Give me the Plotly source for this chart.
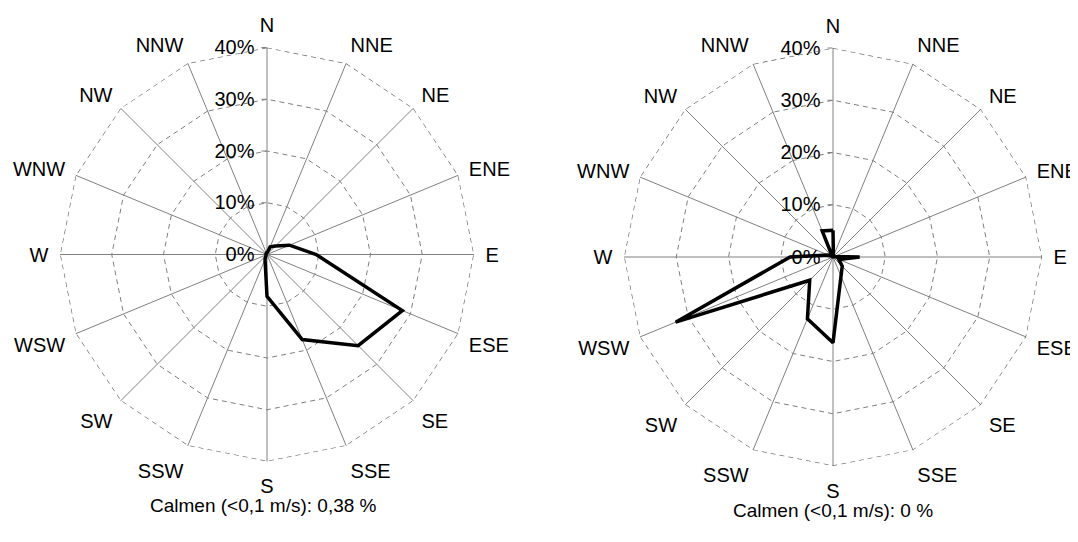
import plotly.graph_objects as go

directions = ["N", "NNE", "NE", "ENE", "E", "ESE", "SE", "SSE",
              "S", "SSW", "SW", "WSW", "W", "WNW", "NW", "NNW"]

left_values = [0.3, 1.6, 2.3, 4.7, 9.5, 28.3, 24.9, 17.8,
               8.1, 1.0, 0.3, 0.2, 0.2, 0.2, 0.2, 0.3]
right_values = [5.1, 0.2, 0.1, 0.2, 5.1, 1.2, 2.5, 4.0,
                16.4, 12.8, 6.3, 32.6, 8.2, 1.0, 0.2, 5.4]

radial_ticks = [0, 10, 20, 30, 40]
radial_labels = ["0%", "10%", "20%", "30%", "40%"]

left_caption = "Calmen (<0,1 m/s): 0,38 %"
right_caption = "Calmen (<0,1 m/s): 0 %"

# the page body has an 8px margin; the figure is sized to fit the window
OFF = 8
W, H = 1078 - OFF, 542 - OFF
FONT = "Liberation Sans, Arial, sans-serif"
GRID = "#808080"


def dom(cx, cy, r):
    cx -= OFF
    cy -= OFF
    return dict(x=[(cx - r) / W, (cx + r) / W],
                y=[1 - (cy + r) / H, 1 - (cy - r) / H])


def polar_layout(d):
    return dict(
        domain=d,
        gridshape="linear",
        bgcolor="white",
        radialaxis=dict(
            range=[0, radial_ticks[-1]],
            tickvals=radial_ticks,
            ticktext=radial_labels,
            angle=90,
            tickangle=90,
            side="counterclockwise",
            showline=False,
            ticks="outside",
            ticklen=5,
            tickcolor=GRID,
            gridcolor=GRID,
            gridwidth=1,
            griddash="5px,4px",
            tickfont=dict(family=FONT, size=20, color="black"),
            layer="below traces",
        ),
        angularaxis=dict(
            type="category",
            categoryarray=directions,
            rotation=90,
            direction="clockwise",
            showline=False,
            gridcolor=GRID,
            gridwidth=1,
            ticks="outside",
            ticklen=7,
            tickcolor="rgba(0,0,0,0)",
            tickfont=dict(family=FONT, size=20, color="black"),
            layer="below traces",
        ),
    )


fig = go.Figure()
for sub in ["polar", "polar2"]:
    # outer 40% grid ring (plotly omits the gridline at the range edge)
    fig.add_trace(go.Scatterpolar(
        r=[radial_ticks[-1]] * (len(directions) + 1),
        theta=directions + directions[:1],
        mode="lines",
        line=dict(color="#6a6a6a", width=1.3, dash="5px,4px"),
        cliponaxis=False,
        subplot=sub,
        showlegend=False,
        hoverinfo="skip",
    ))

fig.add_trace(go.Scatterpolar(
    r=left_values + left_values[:1],
    theta=directions + directions[:1],
    mode="lines",
    line=dict(color="black", width=3.5),
    subplot="polar",
    showlegend=False,
))
fig.add_trace(go.Scatterpolar(
    r=right_values + right_values[:1],
    theta=directions + directions[:1],
    mode="lines",
    line=dict(color="black", width=3.5),
    subplot="polar2",
    showlegend=False,
))

fig.update_layout(
    width=W, height=H,
    margin=dict(l=0, r=0, t=0, b=0),
    paper_bgcolor="white",
    plot_bgcolor="white",
    font=dict(family=FONT, size=20, color="black"),
    polar=polar_layout(dom(267, 254.5, 207)),
    polar2=polar_layout(dom(833, 257, 209)),
    annotations=[
        dict(text=left_caption, x=(263 - OFF) / W, y=1 - (505 - OFF) / H,
             xref="paper", yref="paper",
             showarrow=False, xanchor="center", yanchor="middle",
             font=dict(family=FONT, size=19, color="black")),
        dict(text=right_caption, x=(833 - OFF) / W, y=1 - (510 - OFF) / H,
             xref="paper", yref="paper",
             showarrow=False, xanchor="center", yanchor="middle",
             font=dict(family=FONT, size=19, color="black")),
    ],
)

fig.write_html("out.html")
